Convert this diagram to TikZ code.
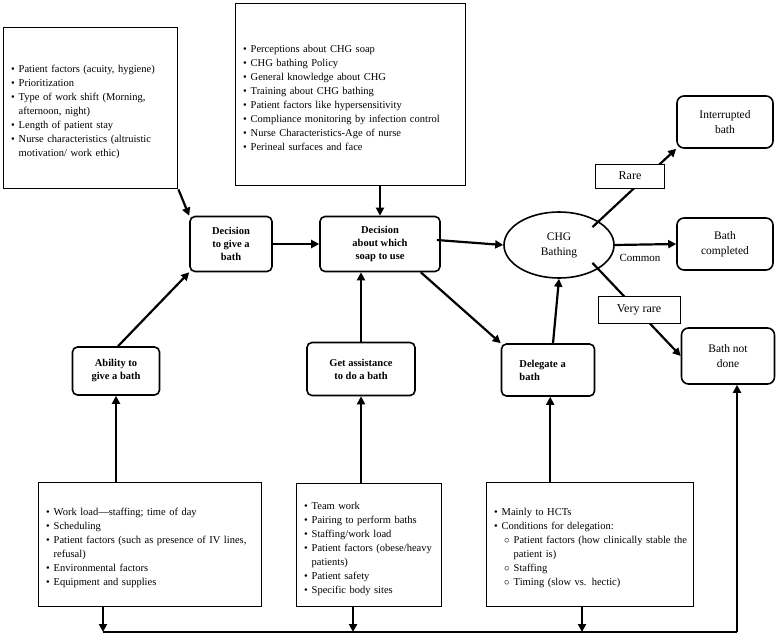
\documentclass[tikz,border=0pt]{standalone}
\usepackage{fontspec}
\setmainfont{Liberation Serif}
\usepackage{enumitem}
\usetikzlibrary{arrows.meta,positioning,shapes.geometric}
\setlist[itemize]{nosep,leftmargin=11pt,labelsep=4pt,label=\textbullet}
\begin{document}
\begin{tikzpicture}[x=1pt,y=-1pt,
  every node/.style={font=\fontsize{10.5}{14}\selectfont},
  >={Triangle[length=8pt,width=8pt]},
  flow/.style={->,line width=2.2pt},
  list/.style={draw,line width=1.4pt,anchor=north west,inner sep=4pt,align=left},
  action/.style={draw,line width=1.6pt,rounded corners=5pt,align=center,font=\fontsize{10.5}{13}\selectfont\bfseries},
  outcome/.style={draw,line width=1.6pt,rounded corners=7pt,align=center,minimum width=96pt,minimum height=52pt,font=\fontsize{11.5}{15}\selectfont},
  tag/.style={draw,line width=1pt,fill=white,font=\fontsize{12}{14}\selectfont}]
\useasboundingbox (0,0) rectangle (778,640);
% factor lists
\node[list,text width=166pt,minimum height=161pt] (factA) at (3,27) {\begin{itemize}
  \item Patient factors (acuity, hygiene)
  \item Prioritization
  \item Type of work shift (Morning, afternoon, night)
  \item Length of patient stay
  \item Nurse characteristics (altruistic motivation/ work ethic)
\end{itemize}};
\node[list,text width=222pt,minimum height=182pt] (factB) at (235,3) {\begin{itemize}
  \item Perceptions about CHG soap
  \item CHG bathing Policy
  \item General knowledge about CHG
  \item Training about CHG bathing
  \item Patient factors like hypersensitivity
  \item Compliance monitoring by infection control
  \item Nurse Characteristics-Age of nurse
  \item Perineal surfaces and face
\end{itemize}};
\node[list,text width=215pt,minimum height=124pt] (factC) at (38,482) {\begin{itemize}
  \item Work load---staffing; time of day
  \item Scheduling
  \item Patient factors (such as presence of IV lines, refusal)
  \item Environmental factors
  \item Equipment and supplies
\end{itemize}};
\node[list,text width=137pt,minimum height=123pt] (factD) at (296,483) {\begin{itemize}
  \item Team work
  \item Pairing to perform baths
  \item Staffing/work load
  \item Patient factors (obese/heavy patients)
  \item Patient safety
  \item Specific body sites
\end{itemize}};
\node[list,text width=199pt,minimum height=124pt] (factE) at (486,482) {\begin{itemize}
  \item Mainly to HCTs
  \item Conditions for delegation:
  \begin{itemize}[label=$\circ$,leftmargin=12pt]
    \item Patient factors (how clinically stable the patient is)
    \item Staffing
    \item Timing (slow vs. hectic)
  \end{itemize}
\end{itemize}};
% steps
\node[action,minimum width=82pt,minimum height=55pt] (give) at (231,244) {Decision\\to give a\\bath};
\node[action,minimum width=120pt,minimum height=55pt] (soap) at (380,244) {Decision\\about which\\soap to use};
\node[action,minimum width=87pt,minimum height=48pt] (able) at (116,371) {Ability to\\give a bath};
\node[action,minimum width=108pt,minimum height=53pt] (help) at (361,369) {Get assistance\\to do a bath};
\node[action,minimum width=93pt,minimum height=52pt,align=left] (deleg) at (548,370) {Delegate a\\bath\hspace*{3.5em}};
\node[ellipse,draw,line width=1.6pt,minimum width=110pt,minimum height=66pt,align=center,font=\fontsize{11.5}{15}\selectfont] (chg) at (559,245) {CHG\\Bathing};
% outcomes
\node[outcome] (intr) at (725,122) {Interrupted\\bath};
\node[outcome] (done) at (725,244) {Bath\\completed};
\node[outcome,minimum width=93pt,minimum height=56pt] (none) at (728,356) {Bath not\\done};
% connectors
\draw[flow] (factA.south east) -- (give.north west);
\draw[flow] (able.north) ++(2,0) -- (give.south west);
\draw[flow] (give) -- (soap);
\draw[flow] (factB.south -| soap.north) -- (soap.north);
\draw[flow] (help.north) -- (help.north |- soap.south);
\draw[flow] (soap.east) ++(-4,-4) -- (chg.west);
\draw[flow] (soap.south east) ++(-20,0) -- (deleg.north west);
\draw[flow] (deleg.north) ++(5,0) -- (chg.south);
\draw[flow] (chg.north east) ++(-6,6) -- (intr.south west);
\draw[flow] (chg.east) -- (done.west);
\draw[flow] (chg.south east) ++(-6,-6) -- (none.west);
\draw[flow] (factC.north -| able) -- (able.south);
\draw[flow] (factD.north -| help) -- (help.south);
\draw[flow] (factE.north) ++(-40,0) coordinate (eTop) -- (eTop |- deleg.south);
% feedback line
\coordinate (lineL) at (103,632);
\coordinate (lineR) at (737,632);
\draw[line width=2.2pt] (lineL) -- (lineR);
\draw[flow] (lineR) -- (lineR |- none.south);
\draw[flow] (factC.south -| lineL) -- (lineL);
\draw[flow] (factD.south -| 353,0) -- (353,632);
\draw[flow] (factE.south -| 582,0) -- (582,632);
% labels
\node[tag,minimum width=69pt,minimum height=24pt] (rare) at (630,176) {Rare};
\node[font=\fontsize{11}{13}\selectfont] (common) at (640,258) {Common};
\node[tag,minimum width=82pt,minimum height=27pt] (vrare) at (639,310) {Very rare};
\end{tikzpicture}
\end{document}
